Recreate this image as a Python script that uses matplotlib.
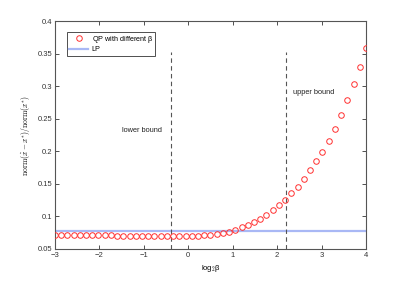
import numpy as np
import matplotlib
matplotlib.use("Agg")
import matplotlib.pyplot as plt

plt.rcParams['font.family'] = ['Liberation Sans', 'DejaVu Sans']
plt.rcParams['mathtext.fontset'] = 'cm'

# log2(beta) grid, step 0.14
beta_log = [-3.0, -2.86, -2.72, -2.58, -2.44, -2.3, -2.16, -2.02, -1.88, -1.74,
            -1.6, -1.46, -1.32, -1.18, -1.04, -0.9, -0.76, -0.62, -0.48, -0.34,
            -0.2, -0.06, 0.08, 0.22, 0.36, 0.5, 0.64, 0.78, 0.92, 1.06,
            1.2, 1.34, 1.48, 1.62, 1.76, 1.9, 2.04, 2.18, 2.32, 2.46,
            2.6, 2.74, 2.88, 3.02, 3.16, 3.3, 3.44, 3.58, 3.72, 3.86, 4.0]
qp_err = [0.0722, 0.0721, 0.0720, 0.0719, 0.0717, 0.0716, 0.0714, 0.0712, 0.0710, 0.0708,
          0.0706, 0.0704, 0.0702, 0.0700, 0.0698, 0.0696, 0.0694, 0.0693, 0.0692, 0.0692,
          0.0693, 0.0695, 0.0698, 0.0702, 0.0708, 0.0716, 0.0728, 0.0743, 0.0765, 0.0796,
          0.0833, 0.0868, 0.0914, 0.0965, 0.1026, 0.1094, 0.1170, 0.1257, 0.1360, 0.1456,
          0.1578, 0.1707, 0.1845, 0.1993, 0.2157, 0.2350, 0.2556, 0.2790, 0.3036, 0.3297, 0.3580]
lp_err = 0.0772
lower_bound = -0.39
upper_bound = 2.19

fig = plt.figure(figsize=(4.04, 2.81), dpi=100)
ax = fig.add_axes([0.136, 0.114, 0.770, 0.811])

ax.axhline(lp_err, color='#a9b8f5', lw=1.6, zorder=1, label='LP')
ax.plot(beta_log, qp_err, 'o', mfc='none', mec='#ff3030', ms=4.0, mew=0.7,
        label=r'QP with different $\mathregular{\beta}$', zorder=3)
ax.vlines([lower_bound, upper_bound], 0.05, 0.352, colors='#555555',
          linestyles=(0, (4, 3)), lw=0.8, zorder=2)

ax.text(-1.04, 0.2326, 'lower bound', fontsize=5.3, ha='center', va='center', color='#222222')
ax.text(2.35, 0.290, 'upper bound', fontsize=5.3, ha='left', va='center', color='#222222')

ax.set_xlim(-3, 4)
ax.set_ylim(0.05, 0.4)
ax.set_xticks(range(-3, 5))
ax.set_yticks(np.arange(0.05, 0.401, 0.05))
ax.set_yticklabels(['0.05', '0.1', '0.15', '0.2', '0.25', '0.3', '0.35', '0.4'])
ax.tick_params(direction='in', labelsize=5.5, length=3, width=0.6, top=True, right=True,
               colors='#333333', pad=2)
for s in ax.spines.values():
    s.set_color('#555555')
    s.set_linewidth(0.8)

ax.set_xlabel(r'log$_2\mathregular{\beta}$', fontsize=5.5, labelpad=3)
ax.set_ylabel(r'$\mathrm{norm}(\hat{x}-x^{*})/\mathrm{norm}(x^{*})$', fontsize=5.5, labelpad=4)

h, l = ax.get_legend_handles_labels()
leg = ax.legend(h[::-1], l[::-1], loc='upper left', fontsize=5.2, frameon=True,
                fancybox=False, edgecolor='#222222', borderpad=0.3, handlelength=2.6,
                handletextpad=0.5, labelspacing=0.2, borderaxespad=0,
                bbox_to_anchor=(0.039, 0.953))
leg.get_frame().set_linewidth(0.7)

fig.savefig('out.png', dpi=100)
